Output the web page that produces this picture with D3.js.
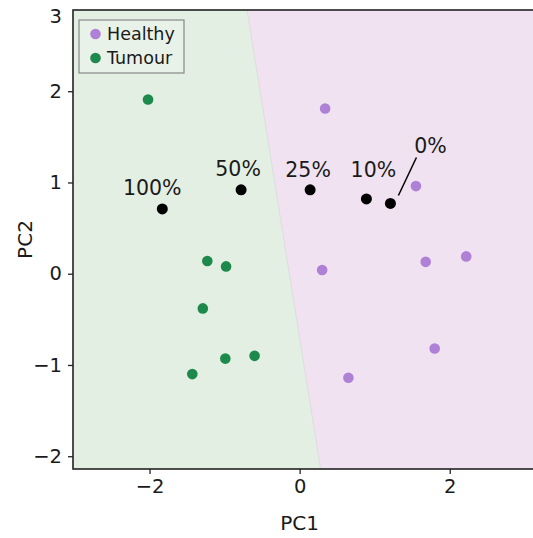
<!DOCTYPE html>
<html>
<head>
<meta charset="utf-8">
<script src="https://cdn.jsdelivr.net/npm/d3@7"></script>
<style>
  html, body { margin: 0; padding: 0; background: #fff; overflow: hidden; }
  svg { display: block; font-family: "DejaVu Sans", sans-serif; }
</style>
</head>
<body>
<svg id="chart" width="533" height="538"></svg>
<script>
// data
const healthyX = [0.34, 1.55, 0.30, 1.68, 2.22, 1.80, 0.65];
const healthyY = [1.81, 0.96, 0.04, 0.13, 0.19, -0.82, -1.14];

const tumourX = [-2.02, -1.23, -0.98, -1.29, -0.60, -0.99, -1.43];
const tumourY = [1.91, 0.14, 0.08, -0.38, -0.90, -0.93, -1.10];

const mixLabels = ['100%', '50%', '25%', '10%', '0%'];
const mixX = [-1.83, -0.78, 0.14, 0.89, 1.21];
const mixY = [0.71, 0.92, 0.92, 0.82, 0.77];

// decision boundary (top end, bottom end)
const boundaryX = [-0.70, 0.28];
const boundaryY = [2.89, -2.14];

const xTicks = [-2, 0, 2];
const yTicks = [-2, -1, 0, 1, 2, 3];

// ────────────────────────────────────────────────────────────
const M = { left: 73, top: 10, right: 536, bottom: 469 };
const svg = d3.select('#chart');

const x = d3.scaleLinear().domain([-3.02, 3.15]).range([M.left, M.right]);
const y = d3.scaleLinear().domain([-2.14, 2.89]).range([M.bottom, M.top]);

const GREEN_BG = '#e4efe3', PURPLE_BG = '#f0e2f1';
const GREEN = '#1d8a4b', PURPLE = '#ae80d6';

// background regions split by the boundary
const [x0, x1] = x.domain(), [y0, y1] = y.domain();
const bTop = [boundaryX[0], boundaryY[0]], bBot = [boundaryX[1], boundaryY[1]];
const poly = pts => pts.map(p => `${x(p[0])},${y(p[1])}`).join(' ');

svg.append('polygon')
  .attr('points', poly([[x0, y1], bTop, bBot, [x0, y0]]))
  .attr('fill', GREEN_BG);
svg.append('polygon')
  .attr('points', poly([bTop, [x1, y1], [x1, y0], bBot]))
  .attr('fill', PURPLE_BG);
svg.append('line')
  .attr('x1', x(bTop[0])).attr('y1', y(bTop[1]))
  .attr('x2', x(bBot[0])).attr('y2', y(bBot[1]))
  .attr('stroke', '#dcdcdc').attr('stroke-width', 1);

// points
svg.append('g').selectAll('circle').data(d3.zip(healthyX, healthyY)).join('circle')
  .attr('cx', d => x(d[0])).attr('cy', d => y(d[1])).attr('r', 5.3)
  .attr('fill', PURPLE);
svg.append('g').selectAll('circle').data(d3.zip(tumourX, tumourY)).join('circle')
  .attr('cx', d => x(d[0])).attr('cy', d => y(d[1])).attr('r', 5.3)
  .attr('fill', GREEN);

// mixture points + labels
const labOff = [[-10, -14], [-3, -14], [-2, -13], [7, -22], [40, -50]];
const mix = d3.zip(mixX, mixY, mixLabels, labOff);
svg.append('g').selectAll('circle').data(mix).join('circle')
  .attr('cx', d => x(d[0])).attr('cy', d => y(d[1])).attr('r', 5.5)
  .attr('fill', '#000');
svg.append('g').selectAll('text').data(mix).join('text')
  .attr('x', d => x(d[0]) + d[3][0]).attr('y', d => y(d[1]) + d[3][1])
  .attr('text-anchor', 'middle').attr('font-size', '20.5px').attr('fill', '#1a1a1a')
  .text(d => d[2]);
// leader line for 0%
const last = mix[mix.length - 1];
svg.append('line')
  .attr('x1', x(last[0]) + 8).attr('y1', y(last[1]) - 8)
  .attr('x2', x(last[0]) + 26).attr('y2', y(last[1]) - 46)
  .attr('stroke', '#000').attr('stroke-width', 1.5);

// axes
const xAxis = svg.append('g').attr('transform', `translate(0,${M.bottom})`)
  .call(d3.axisBottom(x).tickValues(xTicks).tickSize(5).tickPadding(5)
    .tickFormat(d => d < 0 ? '\u2212' + Math.abs(d) : d));
const yAxis = svg.append('g').attr('transform', `translate(${M.left},0)`)
  .call(d3.axisLeft(y).tickValues(yTicks).tickSize(5).tickPadding(6)
    .tickFormat(d => d < 0 ? '\u2212' + Math.abs(d) : d));

[xAxis, yAxis].forEach(a => {
  a.select('.domain').remove();
  a.selectAll('line').attr('stroke', '#222').attr('stroke-width', 1.3);
  a.selectAll('text').attr('font-size', '19.5px').attr('fill', '#1a1a1a')
    .attr('font-family', '"DejaVu Sans", sans-serif');
});
// top tick ("3") sits above the frame: pin its label just inside the view
yAxis.selectAll('.tick').filter(d => y(d) < M.top)
  .attr('transform', `translate(0,${M.top + 7})`)
  .select('line').remove();

// frame
svg.append('rect')
  .attr('x', M.left).attr('y', M.top)
  .attr('width', M.right - M.left).attr('height', M.bottom - M.top)
  .attr('fill', 'none').attr('stroke', '#222').attr('stroke-width', 1.6);

// axis titles
svg.append('text').attr('x', x(0)).attr('y', 530)
  .attr('text-anchor', 'middle').attr('font-size', '20px').attr('fill', '#1a1a1a')
  .text('PC1');
svg.append('text')
  .attr('transform', `translate(32,${(M.top + M.bottom) / 2}) rotate(-90)`)
  .attr('text-anchor', 'middle').attr('font-size', '20px').attr('fill', '#1a1a1a')
  .text('PC2');

// legend
const leg = svg.append('g').attr('transform', 'translate(79,20)');
leg.append('rect').attr('width', 105).attr('height', 53)
  .attr('fill', '#eaf2e9').attr('fill-opacity', 0.8)
  .attr('stroke', '#888').attr('stroke-width', 1.2);
[['Healthy', PURPLE], ['Tumour', GREEN]].forEach(([name, col], i) => {
  const row = leg.append('g').attr('transform', `translate(0,${14 + i * 24})`);
  row.append('circle').attr('cx', 16.5).attr('cy', 0).attr('r', 5.3).attr('fill', col);
  row.append('text').attr('x', 28).attr('y', 6).attr('font-size', '17.5px')
    .attr('fill', '#1a1a1a').text(name);
});
</script>
</body>
</html>
